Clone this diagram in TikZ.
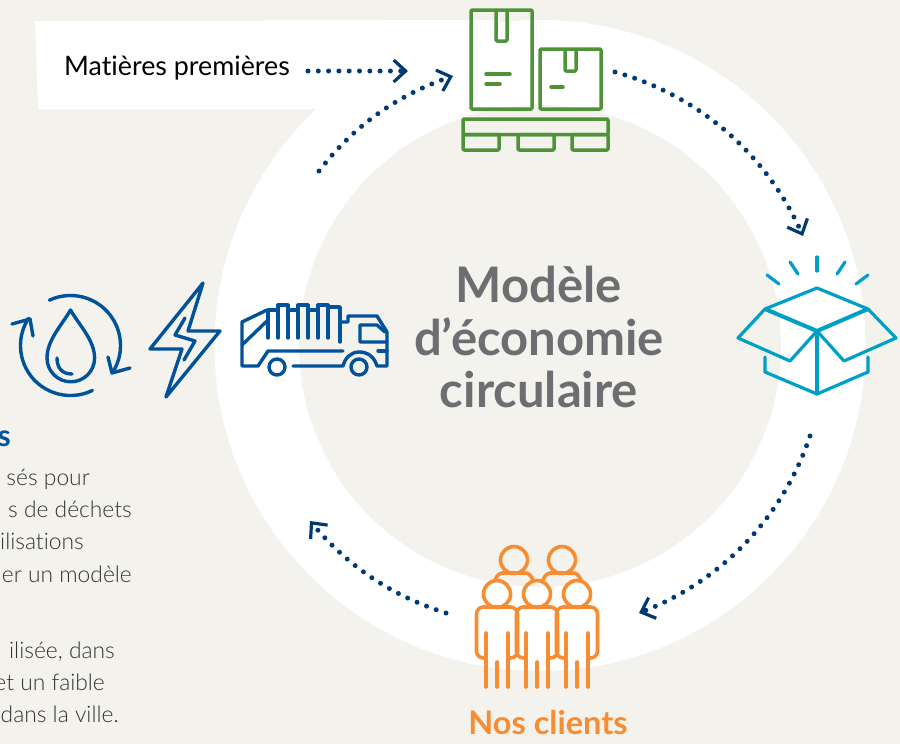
\documentclass[tikz,border=0pt]{standalone}
\usepackage{fontspec}
\setmainfont[Ligatures=CommonOff]{Lato}
\newfontfamily\lightf[Ligatures=CommonOff]{Lato Light}
\usetikzlibrary{arrows.meta,bending}
\definecolor{bgc}{HTML}{F3F2ED}
\definecolor{navy}{HTML}{003A70}
\definecolor{bluei}{HTML}{00529B}
\definecolor{greeni}{HTML}{4F9339}
\definecolor{cyani}{HTML}{00A0C6}
\definecolor{orangei}{HTML}{F78D33}
\definecolor{greyt}{HTML}{6D6E71}
\definecolor{bodyt}{HTML}{333333}
\tikzset{
  dotarrow/.style={navy,line width=5pt,line cap=round,dash pattern=on 0pt off 10.3pt,
    -{Straight Barb[length=12pt,width=22pt,line width=3.2pt,flex=0]}},
  blueicon/.style={bluei,line width=3.4pt,line join=round,line cap=round},
  greenicon/.style={greeni,line width=3.5pt,line join=round,line cap=round},
  cyanicon/.style={cyani,line width=3.2pt,line join=round,line cap=round},
  orangeicon/.style={orangei,line width=3.6pt,line join=round,line cap=round},
  bodytext/.style={anchor=base east,bodyt,font=\lightf\fontsize{22.8}{26}\selectfont,inner sep=0pt},
  titletext/.style={anchor=base,greyt,font=\fontsize{49}{54}\bfseries\selectfont,inner sep=0pt}
}
\begin{document}
\begin{tikzpicture}[x=1pt,y=-1pt]
\useasboundingbox (0,0) rectangle (900,744);
\fill[bgc] (0,0) rectangle (900,744);
% ring
\fill[white,even odd rule] (540,345.5) circle[radius=325.5] (540,346) circle[radius=241];
\fill[white] (35,21) -- (500,20) -- (500,60) -- (330,109) -- (38,109) -- cycle;
% labels
\node[anchor=base west,inner sep=0pt,font=\fontsize{26.8}{30}\selectfont,text=black] (mp) at (64,75) {Matières premières};
\node[titletext] (t1) at (539,302) {Modèle};
\node[titletext] (t2) at (539,355) {d’économie};
\node[titletext] (t3) at (539,407) {circulaire};
\node[anchor=base,inner sep=0pt,orangei,font=\fontsize{32.5}{36}\bfseries\selectfont] (nc) at (548,734) {Nos clients};
\node[anchor=base east,inner sep=0pt,bluei,font=\fontsize{30}{32}\bfseries\selectfont] (bt) at (11,446) {s};
\node[bodytext] (b1) at (90,485) {sés pour};
\node[bodytext] (b2) at (132,517) {s de déchets};
\node[bodytext] (b3) at (84,549) {ilisations};
\node[bodytext] (b4) at (132,582) {er un modèle};
\node[bodytext] (b5) at (115,658) {ilisée, dans};
\node[bodytext] (b6) at (105,690) {et un faible};
\node[bodytext] (b7) at (119,722) {dans la ville.};
% connectors
\coordinate (m0) at (308,71);
\coordinate (m1) at (408,71);
\coordinate (a1) at (615,72);
\coordinate (a2) at (803,236);
\coordinate (b1s) at (810,436);
\coordinate (b2e) at (639,613);
\coordinate (c1) at (446,613);
\coordinate (c2) at (310,521);
\coordinate (d1) at (319,171);
\coordinate (d2) at (453,76);
\draw[dotarrow] (m0) -- (m1);
\draw[dotarrow] (a1) to[bend left=25.5,looseness=.9] (a2);
\draw[dotarrow] (b1s) to[bend left=25.5,looseness=.9] (b2e);
\draw[dotarrow] (c1) to[bend left=16.5,looseness=.9] (c2);
\draw[dotarrow] (d1) to[bend left=17,looseness=.9] (d2);
% water icon
\draw[blueicon] (70.5,345.5) ++(-115:50) arc[start angle=-115,end angle=33,radius=50];
\draw[blueicon] (108,357) -- (112,373) -- (130,368);
\draw[blueicon] (70.5,345.5) ++(64:50) arc[start angle=64,end angle=213,radius=50];
\draw[blueicon] (12,324) -- (30,319) -- (33,336);
\draw[blueicon] (70.5,310) .. controls (62,325) and (47,340) .. (47,358)
  arc[start angle=180,end angle=0,radius=23.8]
  .. controls (94.5,340) and (79,325) .. cycle;
\draw[blueicon] (57,358) .. controls (57,368) and (62,374) .. (72,374);
% bolt
\draw[blueicon] (203,283) -- (150,349) -- (182,349) -- (166,397) -- (220,331) -- (188,331) -- cycle;
\draw[blueicon] (185,318) -- (175,335) -- (195,341) -- (184,360);
% truck
\draw[blueicon] (267,310) -- (242,322) -- (242,366) -- (258,366) -- (268,351) -- (343,351);
\draw[blueicon] (242,345) -- (268,320);
\draw[blueicon] (268,338) -- (268,310) -- (278,310) -- (278,305) -- (288,305) -- (288,310) -- (298,310) -- (298,305) -- (308,305) -- (308,310) -- (318,310) -- (318,305) -- (328,305) -- (328,307) -- (340,307) -- (340,342);
\foreach \x in {278,288,298,308,318,328} \draw[blueicon] (\x,305) -- (\x,338);
\draw[blueicon] (340,322) -- (348,322) -- (348,316) -- (377,316) -- (387,332) -- (387,366) -- (377,366)
  .. controls (374,356) and (367,352) .. (359,352) .. controls (351,352) and (345,358) .. (343,366) -- (293,366);
\draw[blueicon] (378,351) -- (387,351);
\draw[blueicon] (387,342) -- (360,342) -- (360,325) -- (377,325) -- (385,332);
\draw[blueicon] (277,367) circle[radius=8];
\draw[blueicon] (359,367) circle[radius=8];
% boxes on pallet
\draw[greenicon,rounded corners=1pt] (471,10) rectangle (532,109);
\draw[greenicon,rounded corners=1pt] (496,10) -- (496,41) -- (507,41) -- (507,10);
\draw[greenicon] (486,74) -- (510,74);
\draw[greenicon] (486,84) -- (500,84);
\draw[greenicon,rounded corners=1pt] (540,49) rectangle (601,109);
\draw[greenicon,rounded corners=1pt] (565,49) -- (565,71) -- (576,71) -- (576,49);
\draw[greenicon] (551,87) -- (563,87);
\draw[greenicon,rounded corners=1pt] (463,119) rectangle (608,134.5);
\draw[greenicon,rounded corners=1pt] (463,134.5) rectangle (499,150);
\draw[greenicon,rounded corners=1pt] (518,134.5) rectangle (554,150);
\draw[greenicon,rounded corners=1pt] (572,134.5) rectangle (608,150);
% open box
\draw[cyanicon] (767,275) -- (779,284);
\draw[cyanicon] (790,262) -- (798,274);
\draw[cyanicon] (817,257) -- (817,271);
\draw[cyanicon] (845,262) -- (837,274);
\draw[cyanicon] (868,275) -- (856,284);
\draw[cyanicon] (817,288) -- (868,309) -- (817,331) -- (765,309) -- cycle;
\draw[cyani,line width=4pt,line join=round] (765,309) -- (817,331) -- (868,309);
\draw[cyanicon] (817,331) -- (817,394);
\draw[cyanicon] (765,309) -- (738,338) -- (790,361) -- (817,331) -- (844,361) -- (896,338) -- (868,309);
\draw[cyanicon] (765,357) -- (765,372) -- (817,394) -- (868,372) -- (868,357);
% people
\foreach \x in {514,562} {
  \draw[orangeicon] (\x,560) circle[radius=13.5];
  \draw[orangeicon] (\x-19,580) .. controls (\x-17,575) and (\x-14,573) .. (\x-11,573) -- (\x+11,573) .. controls (\x+14,573) and (\x+17,575) .. (\x+19,580);
}
\foreach \x in {497,537,577} {
  \draw[orangeicon] (\x,594) circle[radius=13.5];
  \draw[orangeicon,rounded corners=7pt] (\x-11,658) -- (\x-20.5,658) -- (\x-20.5,607) -- (\x+20.5,607) -- (\x+20.5,658) -- (\x+11,658);
  \draw[orangeicon] (\x-11,633) -- (\x-11,687);
  \draw[orangeicon] (\x+11,633) -- (\x+11,687);
  \draw[orangeicon] (\x,662) -- (\x,687);
}
\end{tikzpicture}
\end{document}
